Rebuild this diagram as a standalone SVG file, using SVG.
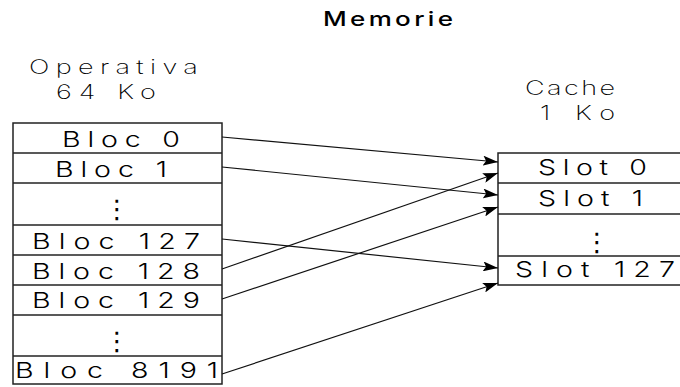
<svg xmlns="http://www.w3.org/2000/svg" width="680" height="387" viewBox="0 0 680 387">
<defs>
<style>
.bg{fill:#fff}
.box{fill:#fff;stroke:#222;stroke-width:1.5}
.sep{stroke:#222;stroke-width:1.5}
.t{font-family:"Inter","Liberation Sans",Arial,sans-serif;fill:#000}
.cell{font-size:22px;font-weight:300}
.hdr{font-family:"Inter","Liberation Sans",sans-serif;font-weight:200;font-size:20px;fill:#000}
.dots{font-family:"DejaVu Sans",sans-serif;font-size:26px;fill:#000;text-anchor:middle}
.conn line{stroke:#111;stroke-width:1.2;marker-end:url(#ah)}
</style>
<marker id="ah" markerUnits="userSpaceOnUse" markerWidth="16" markerHeight="10" refX="15" refY="5" orient="auto">
<path d="M0,0 L15,5 L0,10 L3,5 Z" fill="#000"/>
</marker>
</defs>
<rect class="bg" x="0" y="0" width="680" height="387"/>
<g id="title"><text class="t" transform="translate(323,26) scale(1.3,1)" font-size="20" font-weight="500" textLength="100" lengthAdjust="spacing">Memorie</text></g>
<g id="operativa-label">
<text class="hdr" transform="translate(29,74) scale(1.35,1)" textLength="125" lengthAdjust="spacing">Operativa</text>
<text class="hdr" transform="translate(56,98.5) scale(1.35,1)" textLength="74" lengthAdjust="spacing">64 Ko</text>
</g>
<g id="cache-label">
<text class="hdr" transform="translate(525,95) scale(1.35,1)" textLength="66.7" lengthAdjust="spacing">Cache</text>
<text class="hdr" transform="translate(540,119.5) scale(1.35,1)" textLength="55.6" lengthAdjust="spacing">1 Ko</text>
</g>
<g id="operativa">
<rect class="box" x="13" y="123" width="209" height="261"/>
<line class="sep" x1="13" y1="153" x2="222" y2="153"/>
<line class="sep" x1="13" y1="183" x2="222" y2="183"/>
<line class="sep" x1="13" y1="225" x2="222" y2="225"/>
<line class="sep" x1="13" y1="255" x2="222" y2="255"/>
<line class="sep" x1="13" y1="285" x2="222" y2="285"/>
<line class="sep" x1="13" y1="315" x2="222" y2="315"/>
<line class="sep" x1="13" y1="356" x2="222" y2="356"/>
<g id="bloc0"><text class="t cell" transform="translate(62,147) scale(1.3,1)" textLength="90.8" lengthAdjust="spacing">Bloc 0</text></g>
<g id="bloc1"><text class="t cell" transform="translate(55,177) scale(1.3,1)" textLength="86.2" lengthAdjust="spacing">Bloc 1</text></g>
<g id="dots1"><text class="dots" x="117" y="218">⋮</text></g>
<g id="bloc127"><text class="t cell" transform="translate(32,249) scale(1.3,1)" textLength="129.2" lengthAdjust="spacing">Bloc 127</text></g>
<g id="bloc128"><text class="t cell" transform="translate(32,279) scale(1.3,1)" textLength="129.2" lengthAdjust="spacing">Bloc 128</text></g>
<g id="bloc129"><text class="t cell" transform="translate(32,308) scale(1.3,1)" textLength="129.2" lengthAdjust="spacing">Bloc 129</text></g>
<g id="dots2"><text class="dots" x="117" y="350">⋮</text></g>
<g id="bloc8191"><text class="t cell" transform="translate(15,378) scale(1.3,1)" textLength="156.2" lengthAdjust="spacing">Bloc 8191</text></g>
</g>
<g id="cache">
<rect class="box" x="498" y="153" width="184" height="132"/>
<line class="sep" x1="498" y1="183" x2="682" y2="183"/>
<line class="sep" x1="498" y1="214" x2="682" y2="214"/>
<line class="sep" x1="498" y1="256" x2="682" y2="256"/>
<g id="slot0"><text class="t cell" transform="translate(538,175) scale(1.3,1)" textLength="83.8" lengthAdjust="spacing">Slot 0</text></g>
<g id="slot1"><text class="t cell" transform="translate(538,206) scale(1.3,1)" textLength="80.8" lengthAdjust="spacing">Slot 1</text></g>
<g id="dots3"><text class="dots" x="597" y="251">⋮</text></g>
<g id="slot127"><text class="t cell" transform="translate(515,277) scale(1.3,1)" textLength="123.1" lengthAdjust="spacing">Slot 127</text></g>
</g>
<g id="connectors" class="conn">
<line x1="222" y1="137" x2="498" y2="162"/>
<line x1="222" y1="167" x2="498" y2="195"/>
<line x1="222" y1="239" x2="498" y2="268"/>
<line x1="222" y1="269" x2="498" y2="173"/>
<line x1="222" y1="299" x2="498" y2="207"/>
<line x1="222" y1="374" x2="498" y2="283"/>
</g>
</svg>
